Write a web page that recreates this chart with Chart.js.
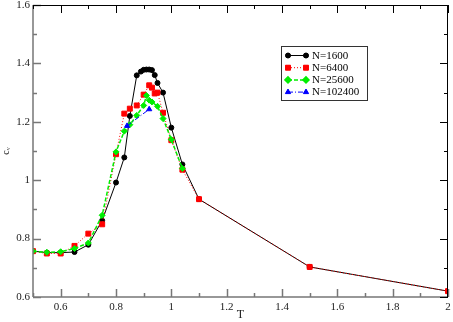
<!DOCTYPE html>
<html>
<head>
<meta charset="utf-8">
<script src="https://cdn.jsdelivr.net/npm/chart.js@4.4.1/dist/chart.umd.min.js"></script>
<style>
  body { margin: 0; background: #fff; }
  canvas { display: block; }
</style>
</head>
<body>
<canvas id="myChart" width="453" height="322"></canvas>
<script>
// data
const tN1600 = [0.5, 0.55, 0.6, 0.65, 0.7, 0.75, 0.8, 0.83, 0.85, 0.875, 0.89, 0.9, 0.91, 0.92, 0.93, 0.94, 0.95, 0.97, 1.0, 1.04, 1.1, 1.5, 2.0];
const cvN1600 = [0.757, 0.752, 0.752, 0.754, 0.779, 0.862, 0.992, 1.078, 1.22, 1.359, 1.372, 1.378, 1.379, 1.379, 1.377, 1.36, 1.333, 1.30, 1.18, 1.054, 0.935, 0.703, 0.62];

const tN6400 = [0.5, 0.55, 0.6, 0.65, 0.7, 0.75, 0.8, 0.83, 0.85, 0.875, 0.9, 0.92, 0.93, 0.94, 0.95, 0.97, 1.0, 1.04, 1.1, 1.5, 2.0];
const cvN6400 = [0.757, 0.749, 0.749, 0.775, 0.817, 0.849, 1.089, 1.228, 1.245, 1.256, 1.293, 1.325, 1.317, 1.297, 1.30, 1.231, 1.137, 1.036, 0.935, 0.703, 0.62];

const tN25600 = [0.5, 0.55, 0.6, 0.65, 0.7, 0.75, 0.8, 0.83, 0.85, 0.875, 0.9, 0.91, 0.92, 0.93, 0.95, 0.97, 1.0, 1.04];
const cvN25600 = [0.757, 0.753, 0.755, 0.766, 0.785, 0.88, 1.097, 1.168, 1.19, 1.222, 1.256, 1.29, 1.274, 1.268, 1.253, 1.211, 1.139, 1.04];

const tN102400 = [0.84, 0.92];
const cvN102400 = [1.186, 1.243];

const seriesLabels = ['N=1600', 'N=6400', 'N=25600', 'N=102400'];

const xMajor = [0.6, 0.8, 1.0, 1.2, 1.4, 1.6, 1.8, 2.0];
const xMinor = [0.5, 0.7, 0.9, 1.1, 1.3, 1.5, 1.7, 1.9];
const yMajor = [0.6, 0.8, 1.0, 1.2, 1.4, 1.6];
const yMinor = [0.7, 0.9, 1.1, 1.3, 1.5];

const SERIF = "'Liberation Serif', 'DejaVu Serif', serif";

const pts = (xs, ys) => xs.map((x, i) => ({ x: x, y: ys[i] }));
const fmt = v => String(+(+v).toFixed(1));

const styles = [
  { color: '#000000', point: 'circle', radius: 2.5, dash: [], width: 1 },
  { color: '#ff0000', point: 'rect', radius: 3.5, dash: [1, 2], width: 1 },
  { color: '#00ee00', point: 'rectRot', radius: 3, dash: [4, 2], width: 1.5 },
  { color: '#0000ff', point: 'triangle', radius: 3, dash: [5, 2, 1, 2], width: 1 },
];

const mkSet = (i, data, order) => ({
  label: seriesLabels[i],
  data: data,
  showLine: true,
  order: order,
  borderColor: styles[i].color,
  backgroundColor: styles[i].color,
  borderWidth: styles[i].width,
  borderDash: styles[i].dash,
  pointStyle: styles[i].point,
  pointRadius: styles[i].radius,
  pointBorderWidth: 1,
  pointBackgroundColor: styles[i].color,
  pointBorderColor: styles[i].color,
  tension: 0,
});

// inward ticks on all four sides + frame
const framePlugin = {
  id: 'frame',
  afterDatasetsDraw(chart) {
    const { ctx, chartArea: { left, right, top, bottom }, scales: { x, y } } = chart;
    ctx.save();
    ctx.setLineDash([]);
    const side = (col, w, fn) => { ctx.strokeStyle = col; ctx.lineWidth = w; ctx.beginPath(); fn(); ctx.stroke(); };

    // bottom + left (grey)
    side('#777', 1.5, () => {
      ctx.moveTo(left, bottom); ctx.lineTo(right, bottom);
      ctx.moveTo(left, bottom); ctx.lineTo(left, top);
      xMajor.forEach(v => { const p = Math.round(x.getPixelForValue(v)) + 0.5; ctx.moveTo(p, bottom); ctx.lineTo(p, bottom - 8); });
      xMinor.forEach(v => { const p = Math.round(x.getPixelForValue(v)) + 0.5; ctx.moveTo(p, bottom); ctx.lineTo(p, bottom - 4); });
      yMajor.forEach(v => { const p = Math.round(y.getPixelForValue(v)) + 0.5; ctx.moveTo(left, p); ctx.lineTo(left + 8, p); });
      yMinor.forEach(v => { const p = Math.round(y.getPixelForValue(v)) + 0.5; ctx.moveTo(left, p); ctx.lineTo(left + 4, p); });
    });
    // top + right (black)
    side('#000', 1, () => {
      ctx.moveTo(left, top + 0.5); ctx.lineTo(right, top + 0.5);
      ctx.moveTo(right - 0.5, top); ctx.lineTo(right - 0.5, bottom);
      xMajor.forEach(v => { const p = Math.round(x.getPixelForValue(v)) + 0.5; ctx.moveTo(p, top); ctx.lineTo(p, top + 8); });
      xMinor.forEach(v => { const p = Math.round(x.getPixelForValue(v)) + 0.5; ctx.moveTo(p, top); ctx.lineTo(p, top + 4); });
      yMajor.forEach(v => { const p = Math.round(y.getPixelForValue(v)) + 0.5; ctx.moveTo(right, p); ctx.lineTo(right - 8, p); });
      yMinor.forEach(v => { const p = Math.round(y.getPixelForValue(v)) + 0.5; ctx.moveTo(right, p); ctx.lineTo(right - 4, p); });
    });
    ctx.restore();
  }
};

// xmgrace style legend box
const legendPlugin = {
  id: 'boxLegend',
  afterDraw(chart) {
    const ctx = chart.ctx;
    const bx = 281.5, by = 46.5, bw = 86, bh = 54;
    ctx.save();
    ctx.fillStyle = '#fff';
    ctx.fillRect(bx, by, bw, bh);
    ctx.strokeStyle = '#333';
    ctx.lineWidth = 1;
    ctx.setLineDash([]);
    ctx.strokeRect(bx, by, bw, bh);
    ctx.font = '11px ' + SERIF;
    ctx.textBaseline = 'middle';
    ctx.fillStyle = '#000';
    seriesLabels.forEach((lab, i) => {
      const s = styles[i];
      const yy = 55.5 + i * 12.2;
      ctx.strokeStyle = s.color;
      ctx.lineWidth = s.width;
      ctx.setLineDash(s.dash);
      ctx.beginPath();
      ctx.moveTo(288, yy); ctx.lineTo(306, yy);
      ctx.stroke();
      ctx.setLineDash([]);
      ctx.fillStyle = s.color;
      [288, 306].forEach(px => {
        Chart.helpers.drawPoint(ctx, { pointStyle: s.point, radius: s.radius, borderWidth: 1 }, px, yy);
        ctx.fill();
      });
      ctx.fillStyle = '#000';
      ctx.fillText(lab, 312, yy + 0.5);
    });
    ctx.restore();
  }
};

new Chart(document.getElementById('myChart'), {
  type: 'scatter',
  data: {
    datasets: [
      mkSet(0, pts(tN1600, cvN1600), 3),
      mkSet(1, pts(tN6400, cvN6400), 2),
      mkSet(2, pts(tN25600, cvN25600), 1),
      mkSet(3, pts(tN102400, cvN102400), 0),
    ],
  },
  options: {
    responsive: false,
    animation: false,
    layout: { padding: { top: 5, right: 2, left: 0, bottom: 0 } },
    plugins: { legend: { display: false }, tooltip: { enabled: false } },
    scales: {
      x: {
        type: 'linear',
        min: 0.5,
        max: 2,
        grid: { display: false, drawTicks: false },
        border: { display: false },
        afterBuildTicks: s => { s.ticks = xMajor.map(v => ({ value: v })); },
        afterFit: s => { s.height = 25; s.paddingLeft = 0; s.paddingRight = 0; },
        ticks: { callback: fmt, padding: 4, maxRotation: 0, autoSkip: false, color: '#222', font: { family: SERIF, size: 11 } },
        title: { display: true, text: 'T', padding: 0, color: '#222', font: { family: SERIF, size: 12 } },
      },
      y: {
        type: 'linear',
        min: 0.6,
        max: 1.6,
        grid: { display: false, drawTicks: false },
        border: { display: false },
        afterBuildTicks: s => { s.ticks = yMajor.map(v => ({ value: v })); },
        afterFit: s => { s.width = 33; s.paddingTop = 0; s.paddingBottom = 0; },
        ticks: { callback: fmt, padding: 3, autoSkip: false, color: '#222', font: { family: SERIF, size: 11 } },
        title: { display: true, text: 'cᵥ', padding: 0, color: '#222', font: { family: SERIF, size: 10 } },
      },
    },
  },
  plugins: [framePlugin, legendPlugin],
});
</script>
</body>
</html>
